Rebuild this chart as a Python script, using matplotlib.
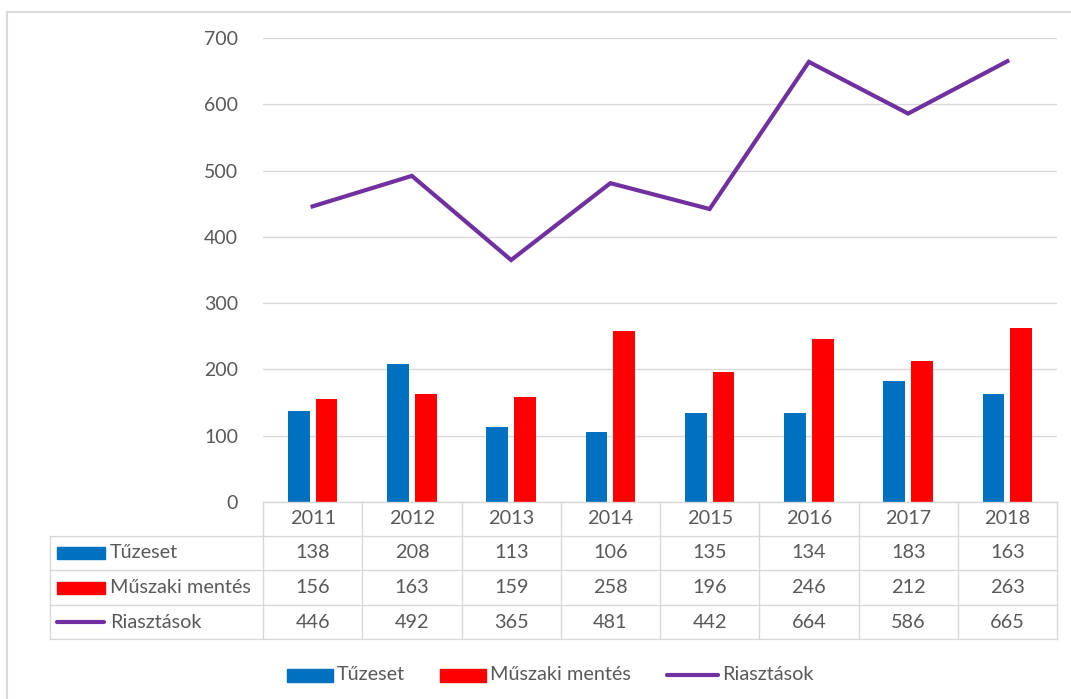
import matplotlib
matplotlib.use("Agg")
import matplotlib.pyplot as plt
from matplotlib.patches import Rectangle
from matplotlib.lines import Line2D
import numpy as np

years = ["2011", "2012", "2013", "2014", "2015", "2016", "2017", "2018"]
tuzeset = [138, 208, 113, 106, 135, 134, 183, 163]
muszaki = [156, 163, 159, 258, 196, 246, 212, 263]
riasztasok = [446, 492, 365, 481, 442, 664, 586, 665]
series_names = ["Tűzeset", "Műszaki mentés", "Riasztások"]
yticks = [0, 100, 200, 300, 400, 500, 600, 700]

BLUE = "#0070C0"
RED = "#FF0000"
PURPLE = "#7030A0"
TXT = "#595959"
GRID = "#D9D9D9"

plt.rcParams['font.family'] = ['Lato', 'DejaVu Sans']

W, H = 1071, 699
fig = plt.figure(figsize=(W / 100, H / 100), dpi=100)

def fx(px):
    return px / W

def fy(py):
    return 1 - py / H

# outer border
fig.add_artist(Line2D([fx(7), fx(7)], [fy(12), fy(699)], color=GRID, lw=1.5, transform=fig.transFigure))
fig.add_artist(Line2D([fx(7), 1], [fy(12), fy(12)], color=GRID, lw=1.5, transform=fig.transFigure))

x0, x1 = 263, 1057
ytop, ybot = 38, 502
ax = fig.add_axes([fx(x0), fy(ybot), fx(x1 - x0), (ybot - ytop) / H])
n = len(years)
x = np.arange(n)
bw = 0.22
ax.bar(x - 0.14, tuzeset, width=bw, color=BLUE, zorder=3)
ax.bar(x + 0.14, muszaki, width=bw, color=RED, zorder=3)
ax.plot(x, riasztasok, color=PURPLE, lw=3, zorder=4, solid_joinstyle='miter')
ax.set_xlim(-0.5, n - 0.5)
ax.set_ylim(0, 700)
ax.set_yticks(yticks)
ax.set_yticklabels([str(v) for v in yticks], color=TXT, fontsize=14)
ax.tick_params(axis='y', length=0, pad=18)
ax.set_xticks([])
for s in ax.spines.values():
    s.set_visible(False)
ax.grid(axis='y', color=GRID, lw=1, zorder=0)

# data table
rows_y = [502, 536, 570, 605, 639]
tleft = 50
col_w = (x1 - x0) / n
lk = dict(color=GRID, lw=1, transform=fig.transFigure)
fig.add_artist(Line2D([fx(x0), fx(x1)], [fy(rows_y[0])] * 2, **lk))
for ry in rows_y[1:]:
    fig.add_artist(Line2D([fx(tleft), fx(x1)], [fy(ry)] * 2, **lk))
fig.add_artist(Line2D([fx(tleft)] * 2, [fy(rows_y[1]), fy(rows_y[-1])], **lk))
for i in range(n + 1):
    xx = x0 + i * col_w
    fig.add_artist(Line2D([fx(xx)] * 2, [fy(rows_y[0]), fy(rows_y[-1])], **lk))

fs = 14.3
for i, yr in enumerate(years):
    cx = x0 + (i + 0.5) * col_w
    fig.text(fx(cx), fy((rows_y[0] + rows_y[1]) / 2), yr, ha='center', va='center', color=TXT, fontsize=fs)
    for r, vals in enumerate([tuzeset, muszaki, riasztasok]):
        cy = (rows_y[r + 1] + rows_y[r + 2]) / 2
        fig.text(fx(cx), fy(cy), str(vals[i]), ha='center', va='center', color=TXT, fontsize=fs)

colors = [BLUE, RED, PURPLE]
for r, name in enumerate(series_names):
    cy = (rows_y[r + 1] + rows_y[r + 2]) / 2
    if r < 2:
        fig.add_artist(Rectangle((fx(57), fy(cy + 6)), fx(48), 12 / H, color=colors[r], transform=fig.transFigure))
    else:
        fig.add_artist(Line2D([fx(57), fx(104)], [fy(cy)] * 2, color=PURPLE, lw=3, solid_capstyle='round', transform=fig.transFigure))
    fig.text(fx(110), fy(cy), name, ha='left', va='center', color=TXT, fontsize=fs)

# bottom legend
ly = 675
leg = [(287, 333, 337), (440, 486, 490), (667, 718, 722)]
for r, (a, b, t) in enumerate(leg):
    if r < 2:
        fig.add_artist(Rectangle((fx(a), fy(ly + 6.5)), fx(b - a), 13 / H, color=colors[r], transform=fig.transFigure))
    else:
        fig.add_artist(Line2D([fx(a), fx(b)], [fy(ly)] * 2, color=PURPLE, lw=3, solid_capstyle='round', transform=fig.transFigure))
    fig.text(fx(t), fy(ly), series_names[r], ha='left', va='center', color=TXT, fontsize=fs)

fig.savefig("out.png", dpi=100)
